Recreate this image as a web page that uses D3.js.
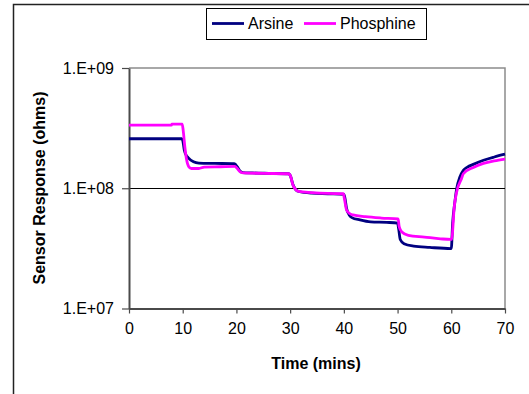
<!DOCTYPE html>
<html>
<head>
<meta charset="utf-8">
<script src="https://cdn.jsdelivr.net/npm/d3@7"></script>
<style>
  body { margin: 0; background: #fff; }
  svg { display: block; font-family: "Liberation Sans", Arial, sans-serif; }
</style>
</head>
<body>
<svg id="chart" width="529" height="394"></svg>
<script>
// values: [time (mins), response (ohms)]
let arsine = [
  [0, 2.58e8], [9.8, 2.58e8], [10.0, 2.5e8], [10.3, 2.07e8], [10.6, 1.9e8], [11, 1.8e8],
  [12, 1.66e8], [13, 1.62e8], [16, 1.61e8], [19.6, 1.6e8], [20.2, 1.5e8], [20.6, 1.4e8],
  [21.2, 1.35e8], [23, 1.34e8], [26, 1.33e8], [29.7, 1.32e8], [30.1, 1.25e8], [30.5, 1.08e8],
  [31, 9.8e7], [31.6, 9.4e7], [34, 9.1e7], [37, 9.0e7], [40.0, 8.9e7], [40.2, 8.3e7],
  [40.5, 6.8e7], [41, 6.0e7], [41.5, 5.7e7], [43, 5.45e7], [45, 5.25e7], [48, 5.2e7],
  [50.0, 5.13e7], [50.2, 4.6e7], [50.5, 3.75e7], [51.2, 3.46e7], [53, 3.3e7], [56, 3.22e7],
  [59.9, 3.15e7], [60.0, 3.15e7], [60.25, 5.1e7], [60.7, 7.9e7], [61, 9.9e7], [61.6, 1.24e8],
  [62.25, 1.41e8], [63, 1.5e8], [64.1, 1.58e8], [66, 1.71e8], [68, 1.82e8], [70, 1.92e8]
];
let phosphine = [
  [0, 3.35e8], [7.9, 3.35e8], [8.0, 3.42e8], [9.9, 3.42e8], [10.1, 3.0e8], [10.4, 2.2e8],
  [10.7, 1.75e8], [11.1, 1.52e8], [11.6, 1.46e8], [13, 1.46e8], [14, 1.5e8], [17, 1.51e8],
  [19.7, 1.52e8], [20.2, 1.45e8], [20.7, 1.37e8], [21.3, 1.34e8], [25, 1.33e8], [29.7, 1.32e8],
  [30.1, 1.25e8], [30.5, 1.07e8], [31, 9.8e7], [31.6, 9.4e7], [34, 9.2e7], [37, 9.05e7],
  [39.9, 9.0e7], [40.1, 8.2e7], [40.5, 6.6e7], [41, 6.2e7], [41.7, 6.0e7], [44, 5.8e7],
  [47, 5.65e7], [50.1, 5.55e7], [50.3, 4.8e7], [50.8, 4.33e7], [52, 4.06e7], [55, 3.93e7],
  [58, 3.8e7], [59.9, 3.75e7], [60.1, 3.75e7], [60.3, 4.76e7], [60.5, 6.56e7], [61, 9.3e7],
  [61.9, 1.2e8], [62.25, 1.32e8], [64.1, 1.49e8], [66, 1.61e8], [68, 1.69e8], [70, 1.75e8]
];
let seriesNames = ['Arsine', 'Phosphine'];
let seriesColors = ['#000080', '#ff00ff'];
let xTicks = [0, 10, 20, 30, 40, 50, 60, 70];
let yTicks = [1e7, 1e8, 1e9];
let yTickLabels = ['1.E+07', '1.E+08', '1.E+09'];

let svg = d3.select('#chart');
let plot = { left: 129, top: 68, right: 505, bottom: 308.5 };

// outer chart frame (runs off the picture on the right and bottom)
svg.append('rect')
  .attr('x', 13.5).attr('y', 4.5)
  .attr('width', 600).attr('height', 500)
  .attr('fill', 'none').attr('stroke', '#222').attr('stroke-width', 1.5);

let x = d3.scaleLinear().domain([0, 70]).range([plot.left, plot.right]);
let y = d3.scaleLog().domain([1e7, 1e9]).range([plot.bottom, plot.top]);

// top / right edges of the plot area
svg.append('path')
  .attr('d', 'M' + plot.left + ',' + plot.top + 'H' + plot.right + 'V' + plot.bottom)
  .attr('fill', 'none').attr('stroke', '#8c8c8c').attr('stroke-width', 1.5);

// gridline at 1.E+08
svg.append('g')
  .selectAll('line')
  .data(yTicks.filter(d => d > 1e7 && d < 1e9))
  .join('line')
  .attr('x1', plot.left).attr('x2', plot.right)
  .attr('y1', d => Math.round(y(d)) + 0.5).attr('y2', d => Math.round(y(d)) + 0.5)
  .attr('stroke', '#000').attr('stroke-width', 1);

let xAxis = svg.append('g')
  .attr('transform', 'translate(0,' + plot.bottom + ')')
  .call(d3.axisBottom(x).tickValues(xTicks).tickSize(5).tickSizeOuter(0).tickPadding(9));
let yAxis = svg.append('g')
  .attr('transform', 'translate(' + plot.left + ',0)')
  .call(d3.axisLeft(y).tickValues(yTicks).tickSize(7).tickSizeOuter(0).tickPadding(8)
    .tickFormat((d, i) => yTickLabels[i]));

[xAxis, yAxis].forEach(ax => {
  ax.select('.domain').attr('stroke', '#4a4a4a').attr('stroke-width', 2);
  ax.selectAll('.tick line').attr('stroke', '#4a4a4a').attr('stroke-width', 1.2);
  ax.selectAll('.tick text')
    .attr('fill', '#000')
    .style('font-size', '16px')
    .style('font-family', '"Liberation Sans", Arial, sans-serif');
});

// the lines
let line = d3.line()
  .x(d => x(d[0]))
  .y(d => y(d[1]))
  .curve(d3.curveMonotoneX);

[arsine, phosphine].forEach((data, i) => {
  svg.append('path')
    .datum(data)
    .attr('d', line)
    .attr('fill', 'none')
    .attr('stroke', seriesColors[i])
    .attr('stroke-width', 2.8)
    .attr('stroke-linejoin', 'round');
});

// axis titles
svg.append('text')
  .attr('x', (plot.left + plot.right) / 2 - 1)
  .attr('y', 369)
  .attr('text-anchor', 'middle')
  .style('font-size', '16px')
  .style('font-weight', 'bold')
  .text('Time (mins)');
svg.append('text')
  .attr('transform', 'translate(45,188) rotate(-90)')
  .attr('text-anchor', 'middle')
  .style('font-size', '16px')
  .style('font-weight', 'bold')
  .text('Sensor Response (ohms)');

// legend
let legend = svg.append('g');
legend.append('rect')
  .attr('x', 206.5).attr('y', 8.5)
  .attr('width', 220).attr('height', 31)
  .attr('fill', '#fff').attr('stroke', '#000').attr('stroke-width', 1);
let legendX = [212, 304];
seriesNames.forEach((name, i) => {
  legend.append('line')
    .attr('x1', legendX[i]).attr('x2', legendX[i] + 32)
    .attr('y1', 23.5).attr('y2', 23.5)
    .attr('stroke', seriesColors[i]).attr('stroke-width', 2.8);
  legend.append('text')
    .attr('x', legendX[i] + 36)
    .attr('y', 29)
    .style('font-size', '16px')
    .text(name);
});
</script>
</body>
</html>
